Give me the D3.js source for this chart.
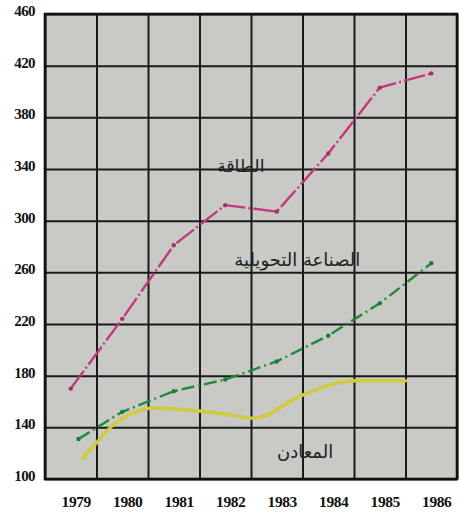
<!DOCTYPE html>
<html><head><meta charset="utf-8">
<script src="https://cdn.jsdelivr.net/npm/d3@7/dist/d3.min.js"></script>
<style>html,body{margin:0;padding:0;background:#fff;}</style>
</head><body>
<svg id="c" width="459" height="513"></svg>
<script>
const years = [1979, 1980, 1981, 1982, 1983, 1984, 1985, 1986];
const yTicks = [100, 140, 180, 220, 260, 300, 340, 380, 420, 460];
const energy = [170, 224, 281, 312, 307, 352, 403, 414];
const industryYears = [1979.15, 1980, 1981, 1982, 1983, 1984, 1985, 1986];
const industry = [131, 152, 168, 177, 191, 211, 236, 267];
const minesYears = [1979.23, 1979.5, 1979.8, 1980.15, 1980.6, 1981.1, 1982.05, 1982.55, 1983.5, 1984.5, 1985.5];
const mines = [116, 128, 141, 150, 155, 154, 150, 147, 165, 176, 176];
const labels = ["الطاقة", "الصناعة التحويلية", "المعادن"];

const svg = d3.select("#c");
const L = 45, R = 457, T = 14, B = 479;
const x = d3.scaleLinear().domain([1978.5, 1986.5]).range([L, R]);
const y = d3.scaleLinear().domain([100, 460]).range([B, T]);

svg.append("rect").attr("x", L).attr("y", T).attr("width", R - L).attr("height", B - T)
  .attr("fill", "#c9c9c5");

// horizontal grid + y labels
const ya = svg.append("g").attr("transform", `translate(${L},0)`)
  .call(d3.axisLeft(y).tickValues(yTicks).tickSize(-(R - L)).tickPadding(10));
ya.select(".domain").remove();
ya.selectAll("line").attr("stroke", "#1a1a1a").attr("stroke-width", 2);
ya.selectAll("text").attr("font-family", "Liberation Serif").attr("font-weight", "bold")
  .attr("font-size", 15).attr("letter-spacing", -0.6).attr("fill", "#111").attr("dy", "0.1em");

// vertical grid
const bounds = d3.range(1978.5, 1987, 1);
const xg = svg.append("g").attr("transform", `translate(0,${T})`)
  .call(d3.axisBottom(x).tickValues(bounds).tickSize(B - T).tickFormat(""));
xg.select(".domain").remove();
xg.selectAll("line").attr("stroke", "#1a1a1a").attr("stroke-width", 2);

// x labels
const xa = svg.append("g").attr("transform", `translate(5,${B})`)
  .call(d3.axisBottom(x).tickValues(years).tickSize(0).tickPadding(17).tickFormat(d3.format("d")));
xa.select(".domain").remove();
xa.selectAll("text").attr("font-family", "Liberation Serif").attr("font-weight", "bold")
  .attr("font-size", 15.5).attr("letter-spacing", -0.4).attr("fill", "#111");

// frame
svg.append("rect").attr("x", L).attr("y", T).attr("width", R - L).attr("height", B - T)
  .attr("fill", "none").attr("stroke", "#111").attr("stroke-width", 2.6);

// mines (yellow)
svg.append("path")
  .datum(minesYears.map((d, i) => [d, mines[i]]))
  .attr("fill", "none").attr("stroke", "#d2cc3c").attr("stroke-width", 3.5).attr("stroke-linecap", "round")
  .attr("d", d3.line().x(d => x(d[0])).y(d => y(d[1])).curve(d3.curveMonotoneX));

// industry (green)
const gData = industryYears.map((d, i) => [d, industry[i]]);
svg.append("path").datum(gData)
  .attr("fill", "none").attr("stroke", "#1f8a3c").attr("stroke-width", 2.4)
  .attr("stroke-dasharray", "13,4,2,4")
  .attr("d", d3.line().x(d => x(d[0])).y(d => y(d[1])));
svg.selectAll(".gd").data(gData).enter().append("circle")
  .attr("cx", d => x(d[0])).attr("cy", d => y(d[1])).attr("r", 2.2).attr("fill", "#1b7a38");

// energy (magenta)
const mData = years.map((d, i) => [d, energy[i]]);
svg.append("path").datum(mData)
  .attr("fill", "none").attr("stroke", "#c2387f").attr("stroke-width", 2.4)
  .attr("stroke-dasharray", "22,3,2,3")
  .attr("d", d3.line().x(d => x(d[0])).y(d => y(d[1])));
svg.selectAll(".md").data(mData).enter().append("circle")
  .attr("cx", d => x(d[0])).attr("cy", d => y(d[1])).attr("r", 2.2).attr("fill", "#a82e6c");

// labels
const lab = [[labels[0], 1982.3, 338, 17.5], [labels[1], 1983.4, 265, 18], [labels[2], 1983.55, 116, 18]];
lab.forEach(([t, yr, v, fs]) => {
  svg.append("text").attr("x", x(yr)).attr("y", y(v)).attr("text-anchor", "middle")
    .attr("font-family", "DejaVu Sans").attr("font-size", fs).attr("fill", "#222")
    .attr("direction", "rtl").text(t);
});
</script>
</body></html>
